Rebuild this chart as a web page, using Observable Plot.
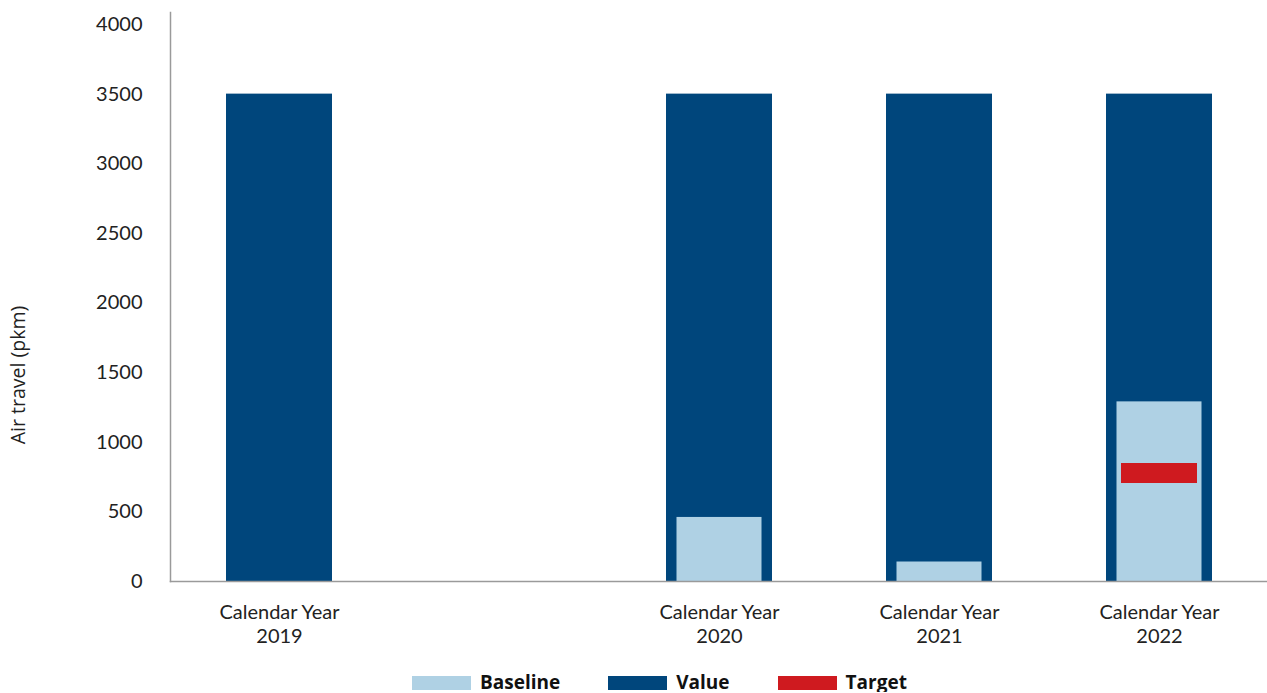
<!DOCTYPE html>
<html>
<head>
<meta charset="utf-8">
<script src="https://cdn.jsdelivr.net/npm/d3@7"></script>
<script src="https://cdn.jsdelivr.net/npm/@observablehq/plot@0.6"></script>
<style>
  body { margin: 0; background: #fff; font-family: "Open Sans", sans-serif; position: relative; }
  #legend { display: flex; align-items: flex-start; padding-left: 412px; margin-top: 12px; gap: 48px; }
  .item { display: flex; align-items: flex-start; }
  .sw { width: 59px; height: 14px; margin-right: 9px; margin-top: 4px; }
  .lab { font-weight: 700; font-size: 19px; line-height: 20px; color: #111; }
  #ylabel { position: absolute; left: 18px; top: 375px; transform: translate(-50%, -50%) rotate(-90deg);
            white-space: nowrap; font-size: 19.5px; color: #222; line-height: 1; }
</style>
</head>
<body>
<div id="chart"></div>
<div id="legend"></div>
<div id="ylabel">Air travel (pkm)</div>
<script>
// ---- data ----
const categories = ["2019", "2020", "2021", "2022"];
const xDomain = ["2019", "", "2020", "2021", "2022"]; // blank slot keeps the gap after 2019
const tickLabels = ["Calendar Year\n2019", "", "Calendar Year\n2020", "Calendar Year\n2021", "Calendar Year\n2022"];
const valueSeries = [3500, 3500, 3500, 3500];
const baselineSeries = [null, 460, 140, 1290];
const targetSeries = [null, null, null, 780];
const yTicks = [0, 500, 1000, 1500, 2000, 2500, 3000, 3500, 4000];

const colors = { Baseline: "#afd1e4", Value: "#00467c", Target: "#cf1a1f" };

const rows = categories.map((c, i) => ({ year: c, value: valueSeries[i], baseline: baselineSeries[i], target: targetSeries[i] }));
const labelOf = new Map(xDomain.map((d, i) => [d, tickLabels[i]]));

const chart = Plot.plot({
  width: 1267,
  height: 660,
  marginLeft: 170,
  marginRight: 0,
  marginTop: 12,
  marginBottom: 79,
  style: { fontFamily: "Lato", fontSize: "20px", color: "#222", background: "#fff" },
  x: { type: "band", domain: xDomain, paddingInner: 0.52, paddingOuter: 0.25 },
  y: { domain: [0, 4000], range: [581, 24] },
  marks: [
    Plot.barY(rows, { x: "year", y: "value", fill: colors.Value }),
    Plot.barY(rows.filter(d => d.baseline != null), { x: "year", y: "baseline", fill: colors.Baseline, insetLeft: 10.5, insetRight: 10.5 }),
    Plot.tickY(rows.filter(d => d.target != null), { x: "year", y: "target", stroke: colors.Target, strokeWidth: 20, insetLeft: 15, insetRight: 15 }),
    Plot.frame({ anchor: "left", stroke: "#9a9a9a", strokeWidth: 1.5 }),
    Plot.frame({ anchor: "bottom", stroke: "#9a9a9a", strokeWidth: 1.5 }),
    Plot.axisY({ ticks: yTicks, tickFormat: d => String(d), tickSize: 0, tickPadding: 28, label: null, fontSize: 20, fill: "#222" }),
    Plot.axisX({ tickSize: 0, tickPadding: 20, label: null, tickFormat: d => labelOf.get(d), lineHeight: 1.22, fontSize: 20, fill: "#222" })
  ]
});
document.getElementById("chart").appendChild(chart);

const legend = document.getElementById("legend");
for (const k of ["Baseline", "Value", "Target"]) {
  const it = document.createElement("div");
  it.className = "item";
  const sw = document.createElement("div");
  sw.className = "sw";
  sw.style.background = colors[k];
  const lb = document.createElement("div");
  lb.className = "lab";
  lb.textContent = k;
  it.appendChild(sw);
  it.appendChild(lb);
  legend.appendChild(it);
}
</script>
</body>
</html>
